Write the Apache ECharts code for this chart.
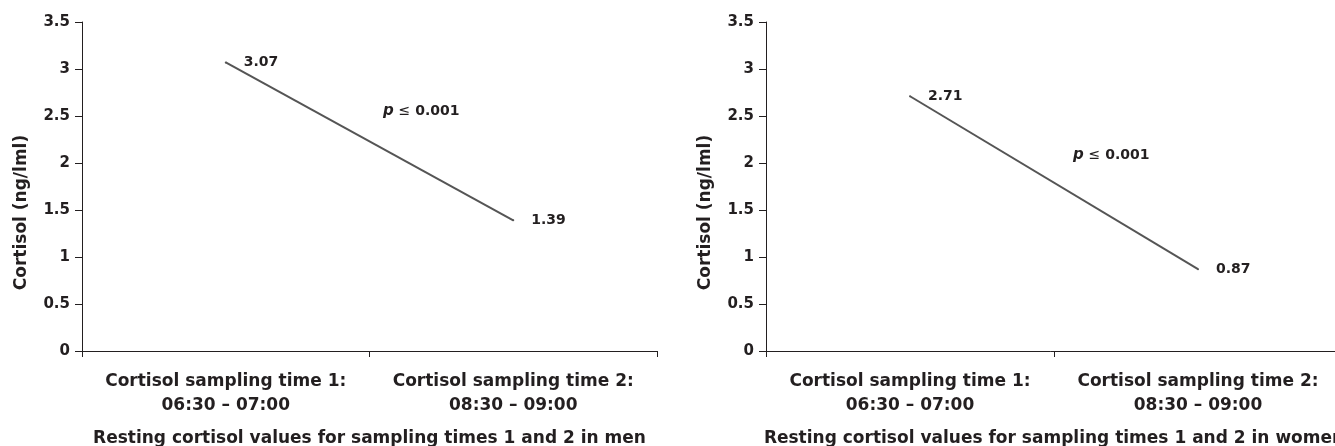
<!DOCTYPE html>
<html>
<head>
<meta charset="utf-8">
<script src="https://cdn.jsdelivr.net/npm/echarts@6/dist/echarts.min.js"></script>
<style>
  body { margin: 0; background: #fff; }
  #chart { width: 1335px; height: 446px; }
</style>
</head>
<body>
<div id="chart"></div>
<script>
const categories = ['Cortisol sampling time 1:\n06:30 – 07:00', 'Cortisol sampling time 2:\n08:30 – 09:00']
const menValues = [3.07, 1.39]
const womenValues = [2.71, 0.87]
const yTitle = 'Cortisol (ng/lml)'
const menTitle = 'Resting cortisol values for sampling times 1 and 2 in men'
const womenTitle = 'Resting cortisol values for sampling times 1 and 2 in women'
const pText = '{p|p} {le|≤} {v|0.001}'

const FONT = 'DejaVu Sans'
const INK = '#231f20'

function xAxisFor (gridIndex, title) {
  return {
    type: 'category',
    gridIndex: gridIndex,
    data: categories,
    boundaryGap: true,
    axisLine: { show: true, lineStyle: { color: INK, width: 1 } },
    axisTick: { show: true, length: 6, lineStyle: { color: INK } },
    axisLabel: {
      interval: 0,
      margin: 19,
      color: INK,
      fontFamily: FONT,
      fontWeight: 'bold',
      fontSize: 17,
      lineHeight: 24
    },
    splitLine: { show: false },
    name: title,
    nameLocation: 'middle',
    nameGap: 79,
    nameTextStyle: { color: INK, fontFamily: FONT, fontWeight: 'bold', fontSize: 17 }
  }
}

function yAxisFor (gridIndex) {
  return {
    type: 'value',
    gridIndex: gridIndex,
    min: 0,
    max: 3.5,
    interval: 0.5,
    axisLine: { show: true, lineStyle: { color: INK, width: 1 } },
    axisTick: { show: true, length: 7, lineStyle: { color: INK } },
    axisLabel: {
      margin: 12,
      color: INK,
      fontFamily: FONT,
      fontWeight: 'bold',
      fontSize: 15
    },
    splitLine: { show: false },
    name: yTitle,
    nameLocation: 'middle',
    nameRotate: 90,
    nameGap: 52,
    nameTextStyle: {
      color: INK,
      fontFamily: FONT,
      fontWeight: 'bold',
      fontSize: 17,
      padding: [0, 52, 0, 0]
    }
  }
}

function lineFor (idx, values) {
  return {
    type: 'line',
    xAxisIndex: idx,
    yAxisIndex: idx,
    data: values,
    symbol: 'circle',
    symbolSize: 2,
    showSymbol: true,
    itemStyle: { color: '#555' },
    lineStyle: { color: '#555', width: 2 },
    label: {
      show: true,
      position: 'right',
      distance: 17,
      color: INK,
      fontFamily: FONT,
      fontWeight: 'bold',
      fontSize: 14,
      formatter: function (p) { return Number(p.value).toFixed(2) }
    },
    silent: true
  }
}

function pLabel (x, y) {
  return {
    type: 'text',
    x: x,
    y: y,
    style: {
      text: pText,
      verticalAlign: 'middle',
      fill: INK,
      font: 'bold 14px "' + FONT + '"',
      rich: {
        p: { fontFamily: FONT, fontWeight: 'bold', fontStyle: 'italic', fontSize: 15, fill: INK },
        le: { fontFamily: FONT, fontWeight: 'normal', fontSize: 14, fill: INK },
        v: { fontFamily: FONT, fontWeight: 'bold', fontSize: 14, fill: INK }
      }
    }
  }
}

const option = {
  backgroundColor: '#fff',
  animation: false,
  grid: [
    { left: 82, top: 22, width: 575, height: 329, outerBoundsMode: 'none' },
    { left: 766, top: 22, width: 576, height: 329, outerBoundsMode: 'none' }
  ],
  xAxis: [xAxisFor(0, menTitle), xAxisFor(1, womenTitle)],
  yAxis: [yAxisFor(0), yAxisFor(1)],
  series: [lineFor(0, menValues), lineFor(1, womenValues)],
  graphic: [pLabel(383, 111), pLabel(1073, 155)]
}

const myChart = echarts.init(document.getElementById('chart'))
myChart.setOption(option)
</script>
</body>
</html>
